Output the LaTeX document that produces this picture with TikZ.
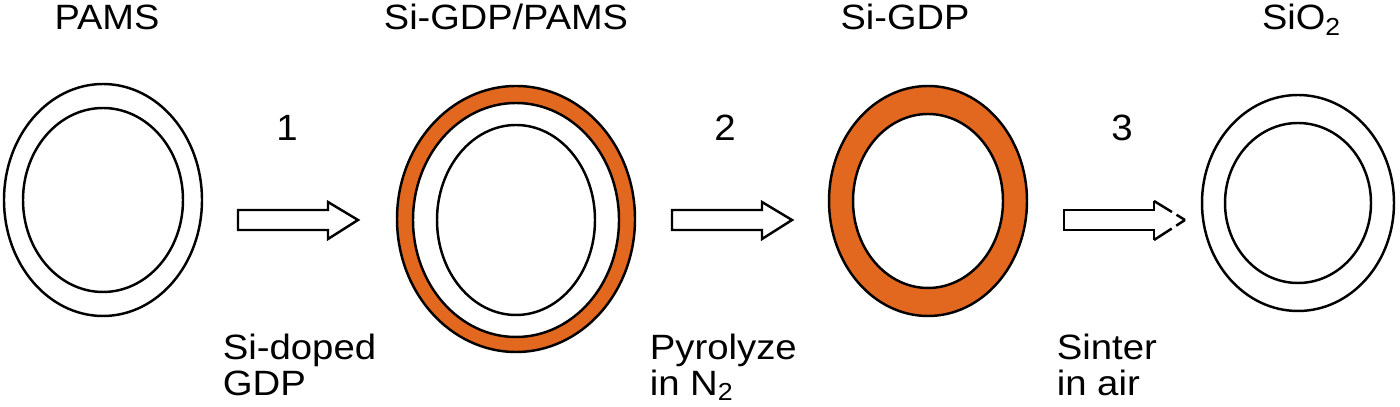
\documentclass[tikz,border=0pt]{standalone}
\usepackage{fontspec}
\setmainfont{Liberation Sans}
\definecolor{gdporange}{RGB}{226,104,32}
\tikzset{
  shell/.style={black,line width=0.7pt},
  lbl/.style={inner sep=0pt,anchor=base,xscale=1.08,font=\fontsize{10}{10.3}\selectfont},
  steplbl/.style={inner sep=0pt,anchor=base,xscale=1.05,font=\fontsize{10.4}{11}\selectfont},
  cond/.style={inner sep=0pt,align=left,anchor=north west,xscale=1.09,font=\fontsize{10}{10.25}\selectfont}
}
\begin{document}
\begin{tikzpicture}[x=0.01cm,y=-0.01cm]
	\useasboundingbox (0,0) rectangle (1400,407);
	% PAMS shell
	\draw[shell] (103,200) ellipse [x radius=99,y radius=116];
	\draw[shell] (103,200) ellipse [x radius=80,y radius=92];
	% Si-GDP coated PAMS
	\filldraw[shell,fill=gdporange] (516,219) ellipse [x radius=119,y radius=133];
	\filldraw[shell,fill=white] (516,220) ellipse [x radius=103,y radius=117];
	\draw[shell] (516,220) ellipse [x radius=79,y radius=95];
	% Si-GDP shell
	\filldraw[shell,fill=gdporange] (928,201) ellipse [x radius=99,y radius=115];
	\filldraw[shell,fill=white] (928,201) ellipse [x radius=75,y radius=87];
	% SiO2 shell
	\draw[shell] (1298,203) ellipse [x radius=96,y radius=108];
	\draw[shell] (1298,203) ellipse [x radius=73,y radius=80];

	% hollow arrows
	\foreach \x in {238,672}
	{
		\draw[shell] (\x,210) -- (\x+90,210) -- (\x+90,202) -- (\x+120,220) -- (\x+90,239) -- (\x+90,230) -- (\x,230) -- cycle;
	}
	\draw[shell] (1154,201) -- (1154,210) -- (1064,210) -- (1064,230) -- (1154,230) -- (1154,240);
	\draw[shell,dash pattern=on 6pt off 1.5pt on 5pt] (1154,201) -- (1185,220);
	\draw[shell,dash pattern=on 6pt off 1.5pt on 5pt] (1154,240) -- (1185,220);

	\node[lbl] (pams) at (107,30) {PAMS};
	\node[lbl] (gdppams) at (506,30) {Si-GDP/PAMS};
	\node[lbl] (gdp) at (905,30) {Si-GDP};
	\node[lbl] (sio) at (1302,30) {SiO\textsubscript{2}};

	\node[steplbl] (one) at (287,141) {1};
	\node[steplbl] (two) at (725,141) {2};
	\node[steplbl] (three) at (1122,141) {3};

	\node[cond] (dope) at (222,333) {Si-doped\\GDP};
	\node[cond] (pyro) at (649,333) {Pyrolyze\\in N\textsubscript{2}};
	\node[cond] (sint) at (1056,333) {Sinter\\in air};
\end{tikzpicture}
\end{document}
